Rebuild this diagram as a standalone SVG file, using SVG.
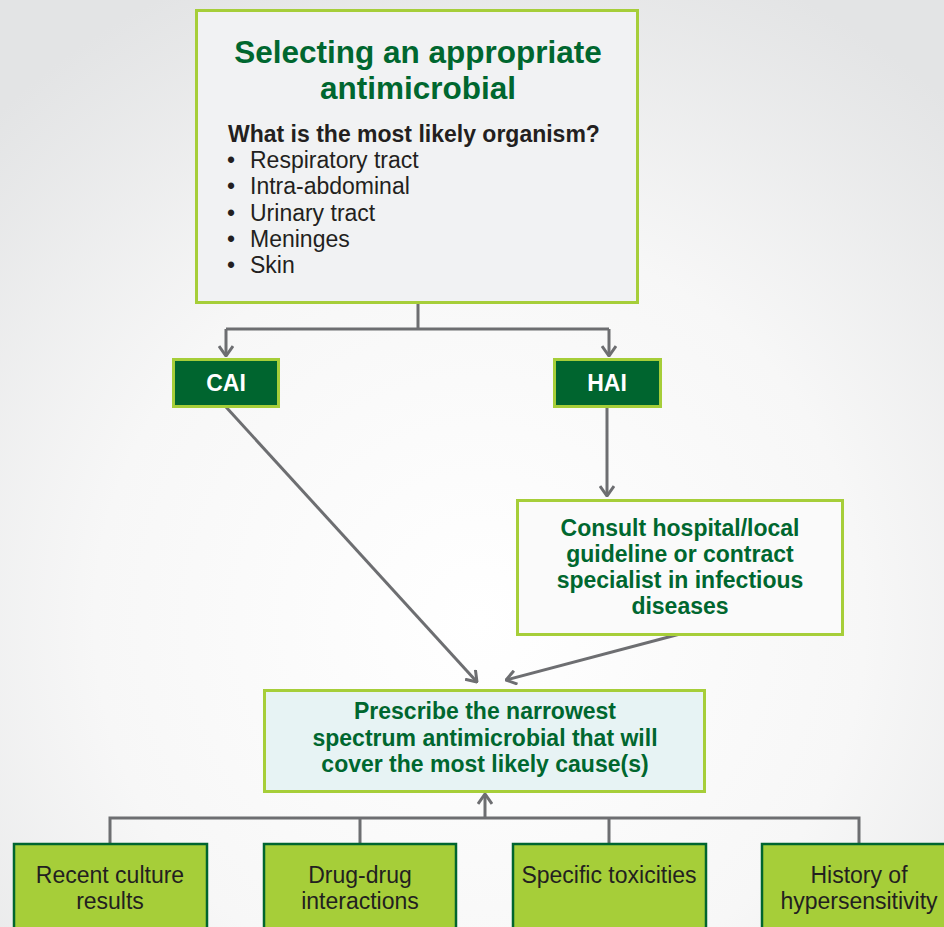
<svg xmlns="http://www.w3.org/2000/svg" width="944" height="927" viewBox="0 0 944 927">
<style>
.t{font-family:"Liberation Sans",Arial,sans-serif;}
.b{font-weight:bold;}
.g{fill:#00672f;}
.k{fill:#231f20;}
.w{fill:#ffffff;}
.c{stroke:#6d6e71;stroke-width:3;fill:none;}
.lg{stroke:#a6ce39;stroke-width:3;}
</style>
<defs>
<radialGradient id="bg" cx="480" cy="620" r="700" gradientUnits="userSpaceOnUse">
<stop offset="0" stop-color="#ffffff"/>
<stop offset="0.55" stop-color="#f7f7f7"/>
<stop offset="1" stop-color="#e3e4e5"/>
</radialGradient>
<marker id="ah" viewBox="0 0 12 16" refX="11" refY="8" markerWidth="12" markerHeight="16" markerUnits="userSpaceOnUse" orient="auto">
<path d="M1,1 L11,8 L1,15" fill="none" stroke="#6d6e71" stroke-width="3"/>
</marker>
</defs>
<rect x="0" y="0" width="944" height="927" fill="url(#bg)"/>

<g id="connectors">
<path class="c" d="M418,303 V329 M226,329 H609"/>
<path class="c" d="M226,329 V356" marker-end="url(#ah)"/>
<path class="c" d="M609,329 V356" marker-end="url(#ah)"/>
<path class="c" d="M226,407 L477,682" marker-end="url(#ah)"/>
<path class="c" d="M607,407 V496" marker-end="url(#ah)"/>
<path class="c" d="M680,634 L506,680" marker-end="url(#ah)"/>
<path class="c" d="M110,843 V818 H859 V843 M360,818 V843 M609,818 V843"/>
<path class="c" d="M485,818 V794" marker-end="url(#ah)"/>
</g>

<g id="top">
<rect x="196.5" y="10.5" width="441" height="292" fill="#f1f2f3" class="lg"/>
<text class="t b g" x="418" y="63" font-size="31.5" text-anchor="middle">Selecting an appropriate</text>
<text class="t b g" x="418" y="99" font-size="31.5" text-anchor="middle">antimicrobial</text>
<text class="t b k" x="228" y="142" font-size="23">What is the most likely organism?</text>
<g class="t k" font-size="23">
<text x="227" y="168">•</text><text x="250" y="168">Respiratory tract</text>
<text x="227" y="194">•</text><text x="250" y="194">Intra-abdominal</text>
<text x="227" y="221">•</text><text x="250" y="221">Urinary tract</text>
<text x="227" y="247">•</text><text x="250" y="247">Meninges</text>
<text x="227" y="273">•</text><text x="250" y="273">Skin</text>
</g>
</g>

<g id="cai">
<rect x="173.5" y="359.5" width="105" height="47" fill="#00652f" class="lg"/>
<text class="t b w" x="226" y="391" font-size="23" text-anchor="middle">CAI</text>
</g>

<g id="hai">
<rect x="554.5" y="359.5" width="106" height="47" fill="#00652f" class="lg"/>
<text class="t b w" x="607" y="391" font-size="23" text-anchor="middle">HAI</text>
</g>

<g id="consult">
<rect x="517.5" y="500.5" width="325" height="134" fill="#fafafa" class="lg"/>
<g class="t b g" font-size="23" text-anchor="middle">
<text x="680" y="536">Consult hospital/local</text>
<text x="680" y="562">guideline or contract</text>
<text x="680" y="588">specialist in infectious</text>
<text x="680" y="614">diseases</text>
</g>
</g>

<g id="prescribe">
<rect x="264.5" y="690.5" width="440" height="101" fill="#e7f3f4" class="lg"/>
<g class="t b g" font-size="23" text-anchor="middle">
<text x="485" y="719">Prescribe the narrowest</text>
<text x="485" y="746">spectrum antimicrobial that will</text>
<text x="485" y="772">cover the most likely cause(s)</text>
</g>
</g>

<g id="culture">
<rect x="14" y="844" width="193" height="95" fill="#a6ce39" stroke="#00652f" stroke-width="2.5"/>
<text class="t k" x="110" y="883" font-size="23" text-anchor="middle">Recent culture</text>
<text class="t k" x="110" y="909" font-size="23" text-anchor="middle">results</text>
</g>

<g id="drug">
<rect x="264" y="844" width="192" height="95" fill="#a6ce39" stroke="#00652f" stroke-width="2.5"/>
<text class="t k" x="360" y="883" font-size="23" text-anchor="middle">Drug-drug</text>
<text class="t k" x="360" y="909" font-size="23" text-anchor="middle">interactions</text>
</g>

<g id="toxicities">
<rect x="513" y="844" width="193" height="95" fill="#a6ce39" stroke="#00652f" stroke-width="2.5"/>
<text class="t k" x="609" y="883" font-size="23" text-anchor="middle">Specific toxicities</text>
</g>

<g id="hypersensitivity">
<rect x="762" y="844" width="195" height="95" fill="#a6ce39" stroke="#00652f" stroke-width="2.5"/>
<text class="t k" x="859" y="883" font-size="23" text-anchor="middle">History of</text>
<text class="t k" x="859" y="909" font-size="23" text-anchor="middle">hypersensitivity</text>
</g>
</svg>
